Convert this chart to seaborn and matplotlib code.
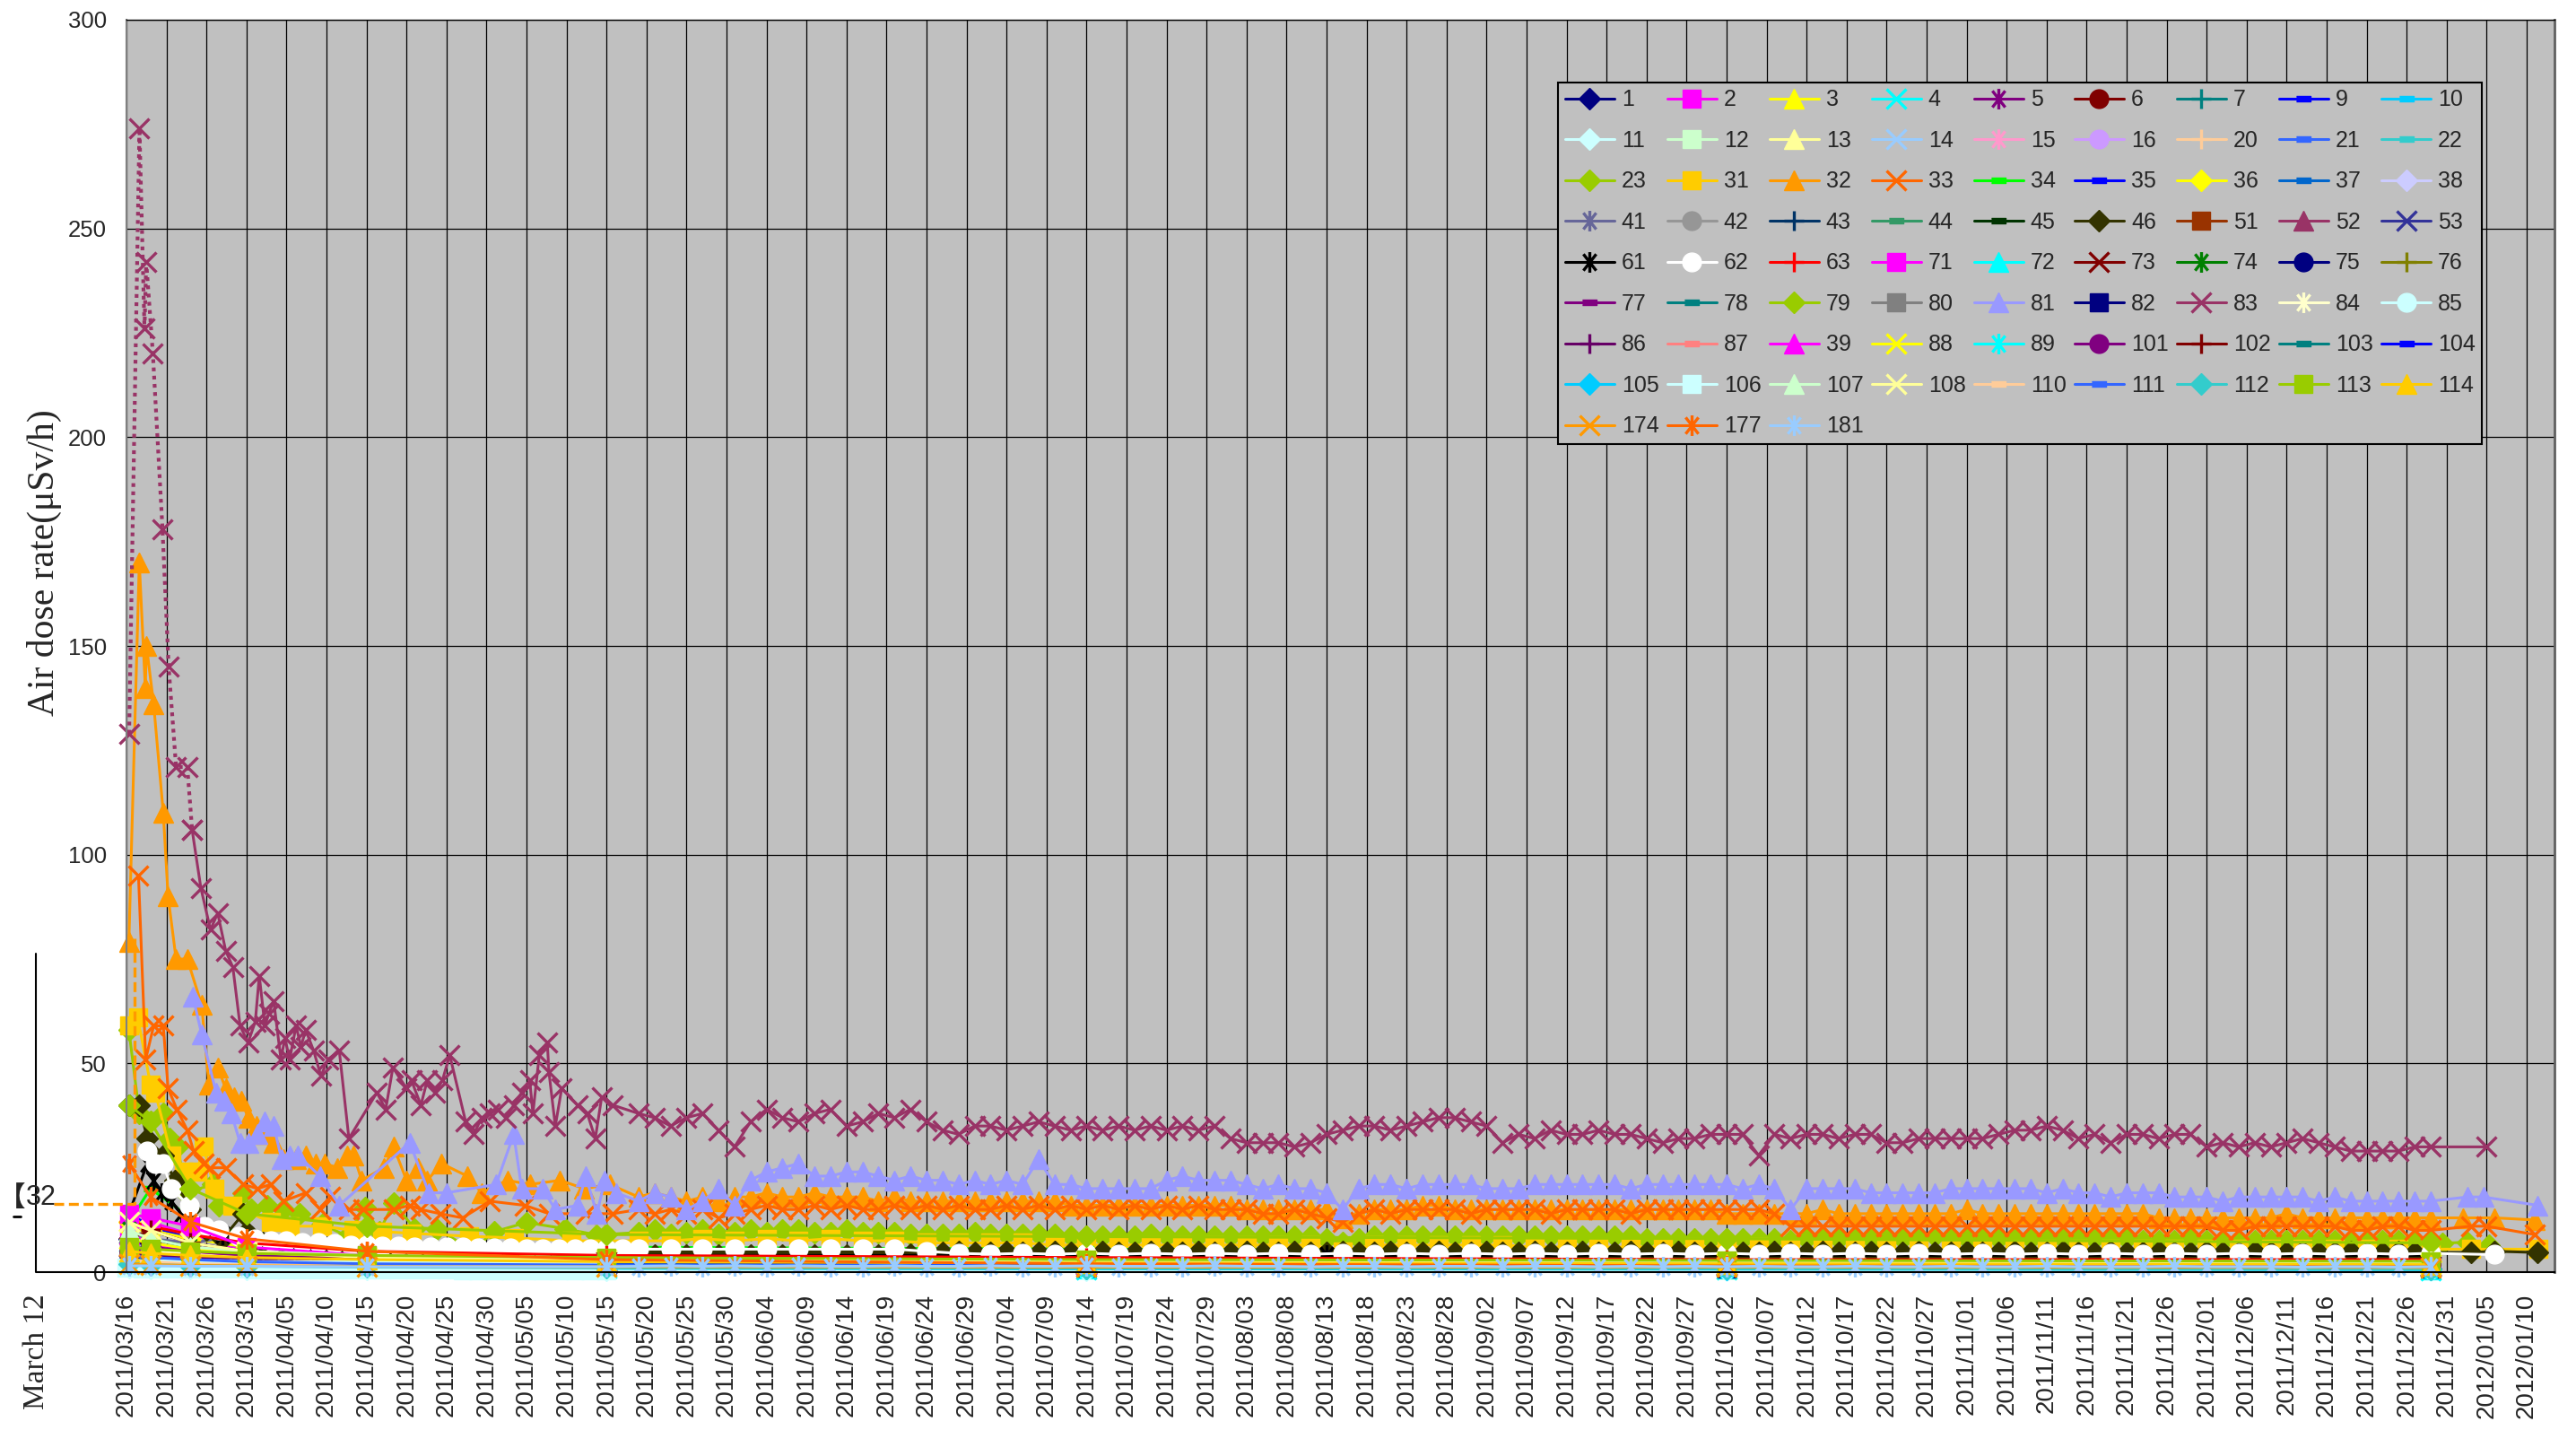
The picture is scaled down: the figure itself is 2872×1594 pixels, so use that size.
import pandas as pd
import matplotlib
matplotlib.use("Agg")
import matplotlib.pyplot as plt
from matplotlib.lines import Line2D
from matplotlib.path import Path
import seaborn as sns

# x positions are day offsets counted from 2011/03/16
late_days = list(range(64, 289, 4))
late2_days = list(range(64, 289, 2))
early2_days = list(range(0, 61, 2))
minor_days = [0.3, 3, 8, 15, 30, 60, 120, 200, 288]
tick_dates = pd.date_range("2011-03-16", "2012-01-10", freq="5D")
tick_labels = [d.strftime("%Y/%m/%d") for d in tick_dates]

# legend order (row by row, as in the chart)
stations = ["1", "2", "3", "4", "5", "6", "7", "9", "10",
            "11", "12", "13", "14", "15", "16", "20", "21", "22",
            "23", "31", "32", "33", "34", "35", "36", "37", "38",
            "41", "42", "43", "44", "45", "46", "51", "52", "53",
            "61", "62", "63", "71", "72", "73", "74", "75", "76",
            "77", "78", "79", "80", "81", "82", "83", "84", "85",
            "86", "87", "39", "88", "89", "101", "102", "103", "104",
            "105", "106", "107", "108", "110", "111", "112", "113", "114",
            "174", "177", "181"]
colors = ["#000080", "#FF00FF", "#FFFF00", "#00FFFF", "#800080", "#800000", "#008080", "#0000FF", "#00CCFF",
          "#CCFFFF", "#CCFFCC", "#FFFF99", "#99CCFF", "#FF99CC", "#CC99FF", "#FFCC99", "#3366FF", "#33CCCC",
          "#99CC00", "#FFCC00", "#FF9900", "#FF6600", "#00FF00", "#0000FF", "#FFFF00", "#0066CC", "#CCCCFF",
          "#666699", "#969696", "#003366", "#339966", "#003300", "#333300", "#993300", "#993366", "#333399",
          "#000000", "#FFFFFF", "#FF0000", "#FF00FF", "#00FFFF", "#800000", "#008000", "#000080", "#808000",
          "#800080", "#008080", "#99CC00", "#808080", "#9999FF", "#000080", "#993366", "#FFFFCC", "#CCFFFF",
          "#660066", "#FF8080", "#FF00FF", "#FFFF00", "#00FFFF", "#800080", "#800000", "#008080", "#0000FF",
          "#00CCFF", "#CCFFFF", "#CCFFCC", "#FFFF99", "#FFCC99", "#3366FF", "#33CCCC", "#99CC00", "#FFCC00",
          "#FF9900", "#FF6600", "#99CCFF"]
marks = ["D", "s", "^", "x", "*", "o", "+", "-", "-",
         "D", "s", "^", "x", "*", "o", "+", "-", "-",
         "D", "s", "^", "x", "-", "-", "D", "-", "D",
         "*", "o", "+", "-", "-", "D", "s", "^", "x",
         "*", "o", "+", "s", "^", "x", "*", "o", "+",
         "-", "-", "D", "s", "^", "s", "x", "*", "o",
         "+", "-", "^", "x", "*", "o", "+", "-", "-",
         "D", "s", "^", "x", "-", "-", "D", "s", "^",
         "x", "*", "*"]

# ---- main stations ----
s83_dot_days = [0.33, 1.62, 2.25, 2.47, 3.3, 4.5, 5.27, 6.2, 7.6, 8.2]
s83_dot = [129, 274, 226, 242, 220, 178, 145, 121, 121, 106]
s83_days = [8.2, 9.3, 10.5, 11.4, 12.4, 13.3, 14.2, 15.2, 16.1, 16.6, 17.3, 17.8, 18.4, 19.3, 19.8,
            20.4, 21.2, 21.8, 22.4, 23.4, 24.3, 25.2, 26.6, 27.8, 31.3, 32.4, 33.3, 35.0, 35.6, 36.8,
            37.6, 38.6, 39.5, 40.4, 42.4, 43.4, 44.4, 45.4, 46.4, 47.4, 48.4, 49.4, 50.4, 50.8, 51.6,
            52.6, 52.8, 53.6, 54.4, 56.4, 57.6, 58.6, 59.4, 60.8]
s83_early = [106, 92, 82, 86, 77, 73, 59, 55, 60, 71, 59, 62, 65, 51, 56,
             51, 59, 54, 58, 53, 47, 51, 53, 32, 43, 39, 49, 44, 46, 40,
             46, 43, 46, 52, 36, 33, 37, 38, 39, 37, 40, 43, 46, 38, 52,
             55, 48, 35, 44, 40, 38, 32, 42, 40]
s83_late = [38, 37, 35, 37, 38, 34, 30, 36, 39, 37, 36, 38, 39, 35, 36, 38, 37, 39, 36,
            34, 33, 35, 35, 34, 35, 36, 35, 34, 35, 34, 35, 34, 35, 34, 35, 34, 35, 32, 31, 31, 31, 30, 31, 33,
            34, 35, 35, 34, 35, 36, 37, 37, 36, 35, 31, 33, 32, 34, 33, 33, 34, 33, 33, 32, 31, 32, 32, 33, 33,
            33, 28, 33, 32, 33, 33, 32, 33, 33, 31, 31, 32, 32, 32, 32, 32, 33, 34, 34, 35, 34, 32, 33, 31, 33,
            33, 32, 33, 33, 30, 31, 30, 31, 30, 31, 32, 31, 30, 29, 29, 29, 29, 30, 30]
s83_tail_days = [295]
s83_tail = [30]

s32_days = [0.3, 1.6, 2.35, 2.5, 3.4, 4.6, 5.2, 6.2, 7.6, 9.4, 10.3, 11.4, 12.4, 13.4, 14.4,
            15.2, 16.2, 17.4, 18.4, 19.6, 21.2, 22.4, 23.6, 24.8, 26.4, 27.6, 28.4, 29.4, 32.2, 33.4,
            35.0, 36.4, 37.6, 39.4, 42.6, 44.4, 47.6, 50.4, 54.2, 57.2, 60.4]
s32_early = [79, 170, 140, 150, 136, 110, 90, 75, 75, 64, 45, 49, 44, 42, 41,
             37, 35, 33, 31, 27, 27, 28, 26, 26, 25, 28, 28, 22, 25, 30,
             22, 25, 22, 26, 23, 19, 22, 21, 22, 20, 21]
s32_late = [18, 19, 18, 17, 18, 17, 18, 18, 19, 18, 18, 19, 18, 18, 18, 17, 18, 17, 17,
            17, 17, 17, 17, 17, 17, 17, 17, 16, 16, 16, 16, 16, 16, 16, 16, 16, 16, 16, 15, 15, 15, 15, 15, 15,
            13, 14, 15, 15, 15, 16, 16, 15, 15, 15, 15, 15, 15, 15, 15, 15, 15, 15, 15, 15, 15, 15, 15, 15, 14,
            14, 14, 14, 14, 14, 15, 14, 14, 14, 14, 14, 14, 14, 14, 15, 14, 14, 14, 14, 14, 14, 14, 14, 14, 14,
            14, 13, 13, 13, 13, 13, 13, 13, 13, 14, 13, 13, 13, 13, 13, 13, 13, 13, 13]
s32_tail_days = [292, 296, 301]
s32_tail = [13, 13, 12.5]

s81_days = [8.3, 9.4, 11.2, 12.2, 13.1, 14.2, 15.2, 16.4, 17.3, 18.4, 19.4, 20.4, 21.4, 24.2, 26.6,
            35.4, 37.8, 40.0, 46.2, 48.4, 49.4, 52.0, 53.6, 56.4, 57.4, 58.8, 59.8, 61.2]
s81_early = [66, 57, 43, 41, 38, 31, 31, 33, 36, 35, 27, 28, 28, 23, 16,
             31, 19, 19, 21, 33, 20, 20, 15, 16, 23, 14, 22, 19]
s81_late = [17, 19, 18, 15, 17, 20, 16, 22, 24, 25, 26, 23, 23, 24, 24, 23, 22, 23, 22,
            22, 21, 22, 21, 22, 21, 27, 21, 21, 20, 20, 20, 20, 20, 22, 23, 22, 22, 22, 21, 20, 21, 20, 20, 19,
            15, 20, 21, 21, 20, 21, 21, 21, 21, 20, 20, 20, 21, 21, 21, 21, 21, 21, 20, 21, 21, 21, 21, 21, 21,
            20, 21, 20, 15, 20, 20, 20, 20, 19, 19, 19, 19, 19, 20, 20, 20, 20, 20, 20, 19, 20, 19, 19, 18, 19,
            19, 19, 18, 18, 18, 17, 18, 18, 18, 18, 18, 17, 18, 17, 17, 17, 17, 17, 17]
s81_tail_days = [292.6, 294.6, 301.4]
s81_tail = [18, 18, 16]

s33_days = [1.5, 2.4, 3.4, 4.6, 5.2, 6.3, 7.6, 8.4, 9.6, 10.4, 12.4, 14.6, 16.4, 18.0, 19.6,
            22.4, 24.2, 25.4, 27.8, 29.6, 33.4, 35.4, 36.8, 39.2, 42.0, 45.4, 49.8, 52.8, 57.4, 60.8]
s33_early = [95, 51, 59, 59, 44, 39, 34, 29, 26, 25, 25, 21, 20, 21, 17,
             19, 15, 18, 15, 15, 15, 16, 15, 14, 13, 17, 16, 14, 14, 14]
s33_late = [15, 14, 15, 14, 15, 13, 14, 15, 16, 15, 15, 16, 15, 16, 15, 15, 16, 15, 16,
            15, 16, 15, 15, 16, 15, 16, 15, 16, 15, 16, 15, 16, 15, 16, 15, 16, 15, 15, 15, 14, 14, 15, 14, 13,
            12, 14, 15, 14, 15, 15, 15, 15, 14, 15, 15, 15, 15, 14, 15, 15, 15, 15, 14, 15, 15, 15, 15, 15, 15,
            15, 15, 14, 11, 11, 11, 11, 11, 11, 11, 11, 11, 11, 11, 11, 11, 11, 11, 11, 11, 11, 11, 11, 11, 11,
            11, 11, 11, 11, 11, 10, 10, 11, 11, 11, 11, 11, 11, 10, 10, 11, 11, 10, 10]
s33_tail_days = [293, 295, 301]
s33_tail = [11, 11, 9]

s23_days = [0.3, 1.6, 4.6, 5.4, 6.4, 7.4, 10.8, 11.6, 14.6, 15.6, 17.6, 19.6, 21.6, 24.4, 27.6,
            29.8, 31.6, 33.4, 36.0, 38.8, 43.2, 46.0, 50.0, 54.8, 58.8]
s23_early = [58, 38, 38, 32, 30, 19, 21, 16, 19, 15, 16, 15, 14, 11.5, 8.6,
             15.5, 9.7, 16.6, 10.4, 10.4, 5.3, 9.7, 11.9, 10.4, 8.9]
s23_late = [9.5, 10, 9, 9.5, 10, 9, 9.5, 10, 9.5, 10, 10, 9.5, 9.5, 10, 9.5, 9.5, 9.5, 9, 9,
            9, 9, 9.5, 9, 9, 9, 9, 9, 8.5, 8.5, 8.5, 8.5, 8.5, 9, 8.5, 8.5, 8.5, 8.5, 8.5, 8.5, 8.5, 8.5, 8.5, 8.5, 8,
            7, 8, 8.5, 8.5, 8.5, 8.5, 8.5, 8.5, 8.5, 8.5, 8.5, 8.5, 8.5, 8.5, 8.5, 8.5, 8.5, 8.5, 8.5, 8, 8, 8, 8, 8, 8,
            8, 8, 8, 7.5, 8, 8, 8, 8, 8, 8, 8, 8, 8.5, 8, 8, 8, 8, 8, 8, 8, 8, 8, 8, 8, 8,
            7.5, 7.5, 7.5, 8, 7.5, 7.5, 7.5, 7.5, 7.5, 7.5, 7.5, 7.5, 7.5, 7.5, 7.5, 7.5, 7.5, 7.5, 7.5]
s23_tail_days = [289.5, 292.6, 295.3]
s23_tail = [6.9, 7.2, 6.5]

s31_days = [0.3, 1.4, 3.0, 3.6, 5.6, 7.2, 8.8, 9.6, 11.0, 13.2, 18.0, 20.4, 24.4, 28.4, 32.0,
            35.6, 42.8, 48.4, 55.6]
s31_early = [59, 61, 45, 43, 28, 24, 24, 30, 20, 16, 12, 11, 11, 10, 9.7, 9.3, 8.6, 8.2, 7.5]
s31_late = [7.5, 7.5, 8, 7.5, 8, 7.5, 8, 7.5, 7.5, 7, 7, 7, 7, 6.5, 6.5, 6.5, 6.5, 6.5, 6.5, 6.5,
            6.5, 6.5, 5, 6.5, 6.5, 6.5, 6.5, 6.5, 6, 6, 6, 6, 6, 6, 6, 6, 5.5, 5.5, 5.5, 5.5,
            5.5, 5.5, 5.5, 5.5, 5.5, 5.5, 5.5, 5.5, 5.5, 5.5, 5.5, 5.5, 5.5, 5.5, 5.5, 5.5, 5.5]
s31_tail_days = [293, 301.5]
s31_tail = [5.5, 5.5]

s46_days = [0.3, 1.6, 2.6, 4.6, 6.0, 8.0, 10.0, 12.0, 14.6, 15.0, 17.0, 20.0, 25.0, 30.0, 40.0,
            50.0, 60.0]
s46_early = [40, 40, 32, 28, 22, 15, 10, 8, 14, 9.7, 7, 6, 5, 4.5, 4, 4, 4]
s46_late = [4.2, 4.0, 4.3, 4.1, 4.2, 4.0, 4.3, 4.1, 4.2, 4.0, 4.3, 4.1, 4.2, 4.0, 4.3, 4.1, 4.2, 4.4, 4.6,
            4.7, 4.9, 4.8, 4.7, 4.9, 4.8, 4.7, 4.9, 4.8, 4.7, 4.9, 4.8, 4.7, 4.9, 4.8, 4.7, 4.9, 4.8, 4.7, 4.9,
            4.8, 4.7, 4.9, 4.8, 4.7, 4.9, 4.8, 4.7, 4.9, 4.8, 4.7, 4.9, 4.8, 4.7, 4.9, 4.8, 4.7, 4.9, 4.8, 4.7,
            4.9, 4.8, 4.7, 4.9, 4.8, 4.7, 4.9, 4.8, 4.7, 4.9, 4.8, 4.7, 4.9, 4.8, 4.7, 4.9, 4.8, 4.7, 4.9, 4.8,
            4.7, 4.9, 4.8, 4.7, 4.9, 4.8, 4.7, 4.9, 4.8, 4.7, 4.9, 4.8, 4.7, 4.9, 4.8, 4.7, 4.9, 4.8, 4.7, 4.9,
            4.8, 4.7, 4.9, 4.8, 4.7, 4.9, 4.8, 4.7, 4.9, 4.8, 4.7, 4.9, 4.8, 4.7]
s46_tail_days = [293, 296, 301.4]
s46_tail = [4.7, 5, 4.7]

s62_days = [2.6, 3.6, 4.6, 5.6, 7.8, 9.8, 11.6, 14, 16, 18, 20, 22, 24, 26, 28, 30, 32, 34, 36, 38,
            40, 42, 44, 46, 48, 50, 52, 54, 56, 58, 60, 62]
s62_early = [29, 26, 26, 20, 16, 11, 10, 8.5, 8, 7.5, 7.5, 7, 7, 6.8, 6.5, 6.5, 6.3, 6.2, 6, 6,
             6, 6, 5.8, 5.8, 5.7, 5.6, 5.6, 5.5, 5.5, 5.5, 5.5, 5.5]
s62_late = [5.5, 5.5, 5.5, 5.5, 5.5, 5.5, 5.5, 5.5, 5.5, 5.0, 4.5, 4.3, 4.5, 4.3, 4.5, 4.3, 4.5, 4.3, 4.5, 4.3,
            4.5, 4.3, 4.5, 4.3, 4.5, 4.3, 4.5, 4.3, 4.5, 4.3, 4.5, 4.3, 4.5, 4.3, 4.5, 4.3, 4.5, 4.3, 4.5, 4.3,
            4.5, 4.3, 4.5, 4.3, 4.5, 4.3, 4.5, 4.3, 4.5, 4.3, 4.5, 4.3, 4.5, 4.3, 4.5, 4.3, 4.5]
s62_tail_days = [296]
s62_tail = [4.2]

s61_days = [0.3, 2.6, 3.4, 4.4, 5.6, 6.8, 9, 12, 16, 20, 30, 40, 60, 100, 150, 200, 288]
s61 = [14, 26, 22, 19, 17, 14, 11, 9, 7, 6, 5, 4.5, 4, 4, 4, 4, 4]

# pale bands along the bottom
s106 = [1.0, 0.9, 0.9, 0.9, 0.8, 0.8, 0.8, 0.8, 0.7, 0.7, 0.7, 0.7, 0.7, 0.6, 0.6, 0.6,
        0.6, 0.6, 0.6, 0.6, 0.6, 0.5, 0.5, 0.5, 0.5, 0.5, 0.5, 0.5, 0.5, 0.5, 0.5]
s181_days = [0.3, 3, 8, 15, 30, 60]
s181_early = [1.5, 1.5, 1.4, 1.4, 1.3, 1.3]
s181_late = [1.4, 1.5, 1.4, 1.5, 1.4, 1.5, 1.4, 1.4, 1.5, 1.4, 1.4, 1.5, 1.4, 1.4, 1.5, 1.4, 1.4, 1.4, 1.5, 1.4,
             1.4, 1.3, 1.4, 1.4, 1.3, 1.4, 1.4, 1.3, 1.4, 1.4, 1.3, 1.4, 1.3, 1.4, 1.3, 1.4, 1.3, 1.3, 1.4, 1.3,
             1.3, 1.4, 1.3, 1.3, 1.4, 1.3, 1.3, 1.3, 1.4, 1.3, 1.3, 1.3, 1.2, 1.3, 1.3, 1.2, 1.3]
s181_tail_days = []
s181_tail = []

# ---- the many low-level stations (values at minor_days) ----
m1 = [8, 6, 4, 3, 2, 1.5, 1.2, 1.0, 0.9]
m2 = [10, 12, 9, 5, 3, 2, 1.5, 1.3, 1.2]
m3 = [9, 8, 6, 4, 3, 2.5, 2, 1.8, 1.6]
m4 = [3, 2.5, 2, 1.5, 1, 0.8, 0.7, 0.6, 0.5]
m5 = [6, 5, 4, 3, 2, 1.5, 1.2, 1.0, 0.9]
m6 = [5, 4, 3, 2, 1.5, 1.2, 1.0, 0.9, 0.8]
m7 = [4, 3, 2.5, 2, 1.5, 1.2, 1.0, 0.9, 0.8]
m9 = [12, 10, 7, 5, 3.5, 2.5, 2, 1.8, 1.6]
m10 = [2, 1.8, 1.5, 1.2, 1, 0.8, 0.7, 0.6, 0.6]
m11 = [1, 0.9, 0.8, 0.7, 0.6, 0.5, 0.5, 0.4, 0.4]
m12 = [2, 1.8, 1.5, 1.2, 1, 0.9, 0.8, 0.7, 0.7]
m13 = [3, 2.5, 2, 1.8, 1.5, 1.2, 1.0, 0.9, 0.8]
m14 = [2, 2, 1.8, 1.7, 1.6, 1.5, 1.4, 1.3, 1.2]
m15 = [4, 3.5, 3, 2.5, 2, 1.5, 1.2, 1.0, 0.9]
m16 = [3, 2.5, 2, 1.6, 1.3, 1.0, 0.9, 0.8, 0.7]
m20 = [2.5, 2.2, 2, 1.7, 1.4, 1.2, 1.0, 0.9, 0.8]
m21 = [6, 5, 4, 3, 2, 1.6, 1.3, 1.1, 1.0]
m22 = [3, 2.6, 2.2, 1.8, 1.5, 1.2, 1.0, 0.9, 0.8]
m34 = [12, 20, 13, 9, 7, 6, 5.5, 5, 4.8]
m35 = [14, 11, 8, 6, 4, 3, 2.5, 2, 1.8]
m36 = [12, 10, 8, 6, 4, 3, 2.5, 2.5, 2.5]
m37 = [5, 4, 3.5, 3, 2.5, 2, 1.8, 1.6, 1.5]
m38 = [4, 3.5, 3, 2.5, 2, 1.7, 1.5, 1.3, 1.2]
m41 = [9, 8, 7, 9, 5, 3, 2.5, 2, 1.8]
m42 = [7, 5, 4, 3, 2.5, 2, 1.7, 1.5, 1.3]
m43 = [3, 2.5, 2, 1.7, 1.4, 1.2, 1.0, 0.9, 0.8]
m44 = [4, 3.5, 3, 2.5, 2, 1.7, 1.5, 1.3, 1.2]
m45 = [5, 4.5, 4, 3.5, 3, 2.5, 2.2, 2, 1.8]
m51 = [4, 3.5, 3, 2.5, 2, 1.7, 1.5, 1.3, 1.2]
m52 = [3, 2.5, 2, 1.7, 1.5, 1.3, 1.1, 1.0, 0.9]
m53 = [5, 4, 3.5, 3, 2.5, 2, 1.7, 1.5, 1.3]
m63 = [12, 11, 9, 7, 5, 4, 3.5, 3, 3]
m71 = [14, 13, 11, 6, 4, 3, 2.5, 2, 1.8]
m72 = [2, 1.8, 1.5, 1.3, 1.1, 1.0, 0.9, 0.8, 0.7]
m73 = [6, 5, 4, 3.5, 3, 2.5, 2, 1.8, 1.6]
m74 = [10, 8, 6, 4.5, 3.5, 3, 2.5, 2.2, 2]
m75 = [3, 2.5, 2, 1.7, 1.4, 1.2, 1.0, 0.9, 0.8]
m76 = [5, 4, 3.5, 3, 2.5, 2, 1.8, 1.6, 1.5]
m77 = [4, 3.5, 3, 2.5, 2, 1.7, 1.5, 1.3, 1.2]
m78 = [3, 3, 2.5, 2, 2, 1.8, 1.5, 1.3, 1.2]
m79 = [40, 36, 20, 14, 11, 9, 8.5, 8, 7]
m80 = [4, 3.5, 3, 2.5, 2, 1.7, 1.5, 1.3, 1.2]
m82 = [3, 2.5, 2, 1.7, 1.4, 1.2, 1.0, 0.9, 0.8]
m84 = [6, 5, 4.5, 4, 3.5, 3, 2.8, 2.6, 2.5]
m85 = [1.5, 1.3, 1.2, 1.0, 0.9, 0.8, 0.7, 0.6, 0.6]
m86 = [5, 4, 3.5, 3, 2.5, 2, 1.8, 1.6, 1.5]
m87 = [4, 3.5, 3, 2.5, 2, 1.7, 1.5, 1.3, 1.2]
m39 = [9, 7, 5, 4, 3, 2.5, 2, 1.8, 1.6]
m88 = [8, 7, 5.5, 4.5, 3.5, 3, 2.5, 2.2, 2]
m89 = [2, 1.8, 1.6, 1.4, 1.2, 1.0, 0.9, 0.8, 0.7]
m101 = [5, 6, 5, 4, 3, 2.5, 2, 1.8, 1.6]
m102 = [8, 10, 7, 5, 3.5, 3, 2.5, 2.2, 2]
m103 = [3, 2.8, 2.5, 2.2, 2, 1.8, 1.6, 1.4, 1.3]
m104 = [4, 3.5, 3, 2.5, 2, 1.7, 1.5, 1.3, 1.2]
m105 = [1.5, 1.3, 1.2, 1.1, 1.0, 0.9, 0.8, 0.7, 0.6]
m107 = [10, 8, 6, 5, 4, 3, 2.5, 2, 1.8]
m108 = [12, 10, 7, 5, 3.5, 3, 2.8, 2.5, 2.3]
m110 = [3, 2.5, 2, 1.8, 1.5, 1.3, 1.1, 1.0, 0.9]
m111 = [4, 3.5, 3, 2.5, 2, 1.7, 1.5, 1.3, 1.2]
m112 = [2, 1.8, 1.6, 1.4, 1.2, 1.0, 0.9, 0.8, 0.7]
m113 = [6, 5.5, 5, 4.5, 4, 3.5, 3, 2.8, 2.6]
m114 = [5, 4.5, 4, 3.5, 3, 2.5, 2.2, 2, 1.8]
m174 = [2, 1.8, 1.6, 1.5, 1.4, 1.3, 1.2, 1.2, 1.1]
m177 = [26, 18, 12, 8, 5, 3, 2, 1.5, 1.3]

minor = {"1": m1, "2": m2, "3": m3, "4": m4, "5": m5, "6": m6, "7": m7, "9": m9, "10": m10,
         "11": m11, "12": m12, "13": m13, "14": m14, "15": m15, "16": m16, "20": m20, "21": m21,
         "22": m22, "34": m34, "35": m35, "36": m36, "37": m37, "38": m38, "41": m41, "42": m42,
         "43": m43, "44": m44, "45": m45, "51": m51, "52": m52, "53": m53, "63": m63, "71": m71,
         "72": m72, "73": m73, "74": m74, "75": m75, "76": m76, "77": m77, "78": m78, "79": m79,
         "80": m80, "82": m82, "84": m84, "85": m85, "86": m86, "87": m87, "39": m39, "88": m88,
         "89": m89, "101": m101, "102": m102, "103": m103, "104": m104, "105": m105,
         "107": m107, "108": m108, "110": m110, "111": m111, "112": m112, "113": m113, "114": m114,
         "174": m174, "177": m177}


def full(days, early, grid, late, tail_days, tail):
    return days + grid + tail_days, early + late + tail


major = {
    "83": full(s83_days, s83_early, late2_days, s83_late, s83_tail_days, s83_tail),
    "32": full(s32_days, s32_early, late2_days, s32_late, s32_tail_days, s32_tail),
    "81": full(s81_days, s81_early, late2_days, s81_late, s81_tail_days, s81_tail),
    "33": full(s33_days, s33_early, late2_days, s33_late, s33_tail_days, s33_tail),
    "23": full(s23_days, s23_early, late2_days, s23_late, s23_tail_days, s23_tail),
    "31": full(s31_days, s31_early, late_days, s31_late, s31_tail_days, s31_tail),
    "46": full(s46_days, s46_early, late2_days, s46_late, s46_tail_days, s46_tail),
    "62": full(s62_days, s62_early, late_days, s62_late, s62_tail_days, s62_tail),
    "181": full(s181_days, s181_early, late_days, s181_late, s181_tail_days, s181_tail),
    "61": (s61_days, s61),
    "106": (early2_days, s106),
}

# Excel-like markers
ast = Path([(0, -1), (0, 1), (-0.62, -0.8), (0.62, 0.8), (-0.62, 0.8), (0.62, -0.8)],
           [Path.MOVETO, Path.LINETO] * 3)
dash = [(-1, -0.4), (1, -0.4), (1, 0.4), (-1, 0.4)]
mk_style = {"D": ("D", 12.5, 1), "s": ("s", 14, 1), "^": ("^", 15.5, 1), "o": ("o", 15, 1),
            "x": ("x", 16, 2.4), "+": ("+", 16, 2.4), "*": (ast, 16.5, 2.4), "-": (dash, 11, 1)}

sns.set_style("white", {"axes.facecolor": "#C0C0C0"})
plt.rcParams["font.family"] = ["Liberation Sans", "DejaVu Sans"]

fig = plt.figure(figsize=(28.72, 15.94), dpi=100)
ax = fig.add_axes([0.0491, 0.1104, 0.9426, 0.8758])
ax.set_facecolor("#C0C0C0")


def draw(x, y, color, mk, label=None, ls="-", lw=2.2):
    m, ms, mew = mk_style[mk]
    sns.lineplot(x=x, y=y, ax=ax, color=color, marker=m, markersize=ms,
                 markeredgecolor=color, markerfacecolor=color, markeredgewidth=mew,
                 linewidth=lw, linestyle=ls, label=label, estimator=None, sort=False,
                 errorbar=None, clip_on=False)


for st, col, mk in zip(stations, colors, marks):
    if st in major:
        x, y = major[st]
    else:
        x, y = minor_days, minor[st]
    if st == "83":
        draw(s83_dot_days, s83_dot, col, mk, ls=(0, (1, 1.2)), lw=3)
    draw(x, y, col, mk, label=st)

ax.set_xlim(0, 303.5)
ax.set_ylim(0, 300)
ax.set_yticks(range(0, 301, 50))
ax.set_xticks(range(0, 301, 5))
ax.set_xticklabels(tick_labels)
ax.tick_params(axis="x", labelsize=20, pad=17, length=0, labelrotation=90)
ax.tick_params(axis="y", labelsize=18.5, pad=16, length=0)
ax.set_xlabel("")
ax.set_ylabel("")
ax.grid(True, color="black", linewidth=0.9)
ax.set_axisbelow(True)
for side, c, w in [("left", "#808080", 1.5), ("right", "#606060", 2), ("top", "black", 1), ("bottom", "black", 1.5)]:
    ax.spines[side].set_visible(True)
    ax.spines[side].set_color(c)
    ax.spines[side].set_linewidth(w)

# legend: 9 columns filled row by row
handles, labels = ax.get_legend_handles_labels()
n = len(handles)
order = [r * 9 + c for c in range(9) for r in range(9) if r * 9 + c < n]
leg = ax.legend([handles[i] for i in order], [labels[i] for i in order], ncol=9,
                loc="upper left", bbox_to_anchor=(0.5896, 0.9499), borderaxespad=0,
                frameon=True, fancybox=False, facecolor="#C0C0C0", edgecolor="black",
                framealpha=1, prop={"family": "Liberation Sans", "size": 18},
                handlelength=2.2, handletextpad=0.32, columnspacing=0.37, labelspacing=0.86,
                borderpad=0.3, numpoints=1)
leg.get_frame().set_linewidth(1.5)

# texts and leftover marks outside the plot
W, H = 2872, 1594
fig.text(49 / W, 1 - 627 / H, "Air dose rate(μSv/h)", rotation=90, ha="center", va="center",
         fontsize=30, family=["Liberation Serif", "DejaVu Serif"])
fig.text(41 / W, 1 - 1507 / H, "March 12", rotation=90, ha="center", va="center",
         fontsize=24, family=["Liberation Serif", "DejaVu Serif"])
fig.text(28 / W, 1 - 1335 / H, "【", ha="right", va="center", fontsize=22, fontweight="bold",
         family=["Noto Sans CJK JP", "DejaVu Sans"])
fig.text(29 / W, 1 - 1335 / H, "32", ha="left", va="center", fontsize=22,
         family=["Liberation Sans", "DejaVu Sans"])
fig.add_artist(Line2D([40 / W, 40 / W, 141 / W], [1 - 1063 / H, 1 - 1418 / H, 1 - 1418 / H],
                      color="black", lw=1.5))
fig.add_artist(Line2D([15 / W, 23 / W], [1 - 1356 / H, 1 - 1356 / H], color="black", lw=2))
fig.add_artist(Line2D([60 / W, 150 / W, 150 / W], [1 - 1342 / H, 1 - 1342 / H, 1 - 1046 / H],
                      color="#FF9900", lw=2.4, linestyle=(0, (3.3, 1.6))))

fig.savefig("out.png", dpi=100)
